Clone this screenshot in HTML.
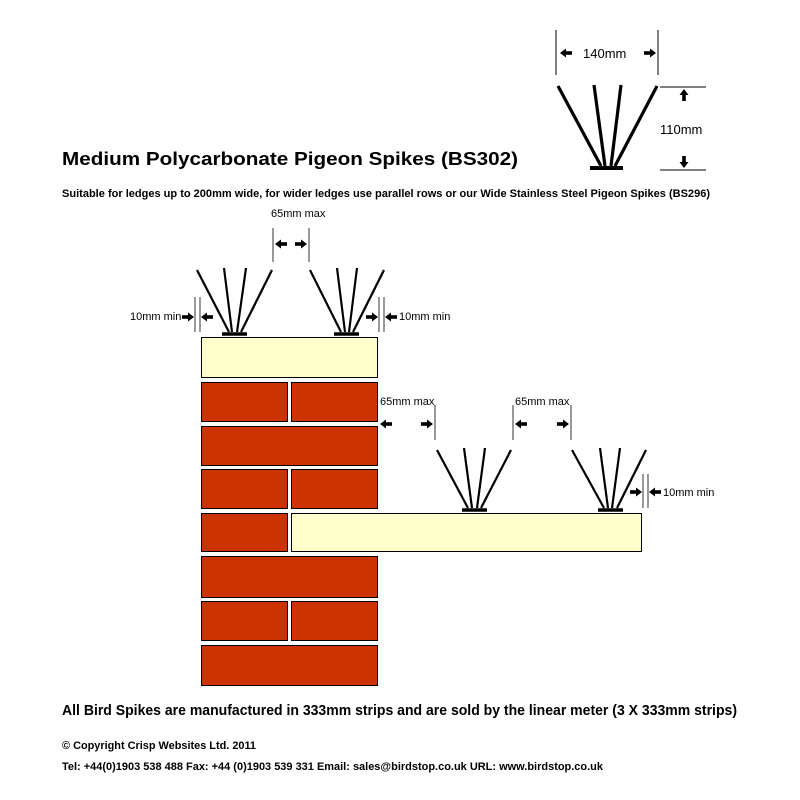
<!DOCTYPE html>
<html><head><style>body{margin:0;background:#fff}svg{display:block}text{font-family:"Liberation Sans",Arial,sans-serif}</style></head>
<body>
<svg width="800" height="800" viewBox="0 0 800 800" xmlns="http://www.w3.org/2000/svg">
<defs>
<g id="ar"><rect x="-12" y="-1.8" width="7" height="3.6" fill="#000"/><polygon points="-6,-4.5 0,0 -6,4.5" fill="#000"/></g>
</defs>
<!-- big spike -->
<g stroke="#000" stroke-width="3.2" stroke-linecap="butt">
<line x1="558" y1="86" x2="601" y2="166"/><line x1="594" y1="85" x2="605" y2="166"/><line x1="621" y1="85" x2="611" y2="166"/><line x1="657" y1="86" x2="615" y2="166"/>
<line x1="590" y1="168" x2="623" y2="168" stroke-width="4"/>
</g>
<g stroke="#000" stroke-width="1">
<line x1="556" y1="30" x2="556" y2="75"/><line x1="658" y1="30" x2="658" y2="75"/>
<line x1="660" y1="87" x2="706" y2="87"/><line x1="660" y1="170" x2="706" y2="170"/>
</g>
<use href="#ar" transform="translate(560,53) rotate(180)"/>
<use href="#ar" transform="translate(656,53)"/>
<use href="#ar" transform="translate(684,89) rotate(-90)"/>
<use href="#ar" transform="translate(684,168) rotate(90)"/>
<text x="583" y="58" font-size="13">140mm</text>
<text x="660" y="134" font-size="13">110mm</text>
<text x="62" y="165" font-size="18" font-weight="bold" textLength="456" lengthAdjust="spacingAndGlyphs">Medium Polycarbonate Pigeon Spikes (BS302)</text>
<text x="62" y="197" font-size="11" font-weight="bold" textLength="648" lengthAdjust="spacingAndGlyphs">Suitable for ledges up to 200mm wide, for wider ledges use parallel rows or our Wide Stainless Steel Pigeon Spikes (BS296)</text>
<!-- small spikes -->
<g stroke="#000" stroke-width="2.2">
<line x1="197" y1="270" x2="229" y2="332"/><line x1="224" y1="268" x2="232" y2="332"/><line x1="246" y1="268" x2="237" y2="332"/><line x1="272" y1="270" x2="241" y2="332"/>
<line x1="222" y1="334" x2="247" y2="334" stroke-width="3.5"/>
<line x1="310" y1="270" x2="341" y2="332"/><line x1="337" y1="268" x2="345" y2="332"/><line x1="357" y1="268" x2="349" y2="332"/><line x1="384" y1="270" x2="353" y2="332"/>
<line x1="334" y1="334" x2="359" y2="334" stroke-width="3.5"/>
<line x1="437" y1="450" x2="468" y2="508"/><line x1="464" y1="448" x2="472" y2="508"/><line x1="485" y1="448" x2="477" y2="508"/><line x1="511" y1="450" x2="481" y2="508"/>
<line x1="462" y1="510" x2="487" y2="510" stroke-width="3.5"/>
<line x1="572" y1="450" x2="604" y2="508"/><line x1="600" y1="448" x2="608" y2="508"/><line x1="620" y1="448" x2="612" y2="508"/><line x1="646" y1="450" x2="617" y2="508"/>
<line x1="598" y1="510" x2="623" y2="510" stroke-width="3.5"/>
</g>
<g stroke="#000" stroke-width="0.8">
<line x1="273" y1="228" x2="273" y2="262"/><line x1="309" y1="228" x2="309" y2="262"/>
<line x1="195" y1="297" x2="195" y2="332"/><line x1="200" y1="297" x2="200" y2="332"/>
<line x1="379" y1="297" x2="379" y2="332"/><line x1="384" y1="297" x2="384" y2="332"/>
<line x1="435" y1="405" x2="435" y2="440"/><line x1="513" y1="405" x2="513" y2="440"/><line x1="571" y1="405" x2="571" y2="440"/>
<line x1="643" y1="474" x2="643" y2="508"/><line x1="648" y1="474" x2="648" y2="508"/>
</g>
<use href="#ar" transform="translate(275,244) rotate(180)"/>
<use href="#ar" transform="translate(307,244)"/>
<use href="#ar" transform="translate(194,317)"/>
<use href="#ar" transform="translate(201,317) rotate(180)"/>
<use href="#ar" transform="translate(378,317)"/>
<use href="#ar" transform="translate(385,317) rotate(180)"/>
<use href="#ar" transform="translate(380,424) rotate(180)"/>
<use href="#ar" transform="translate(433,424)"/>
<use href="#ar" transform="translate(515,424) rotate(180)"/>
<use href="#ar" transform="translate(569,424)"/>
<use href="#ar" transform="translate(642,492)"/>
<use href="#ar" transform="translate(649,492) rotate(180)"/>
<g font-size="11">
<text x="271" y="217">65mm max</text>
<text x="130" y="320">10mm min</text>
<text x="399" y="320">10mm min</text>
<text x="380" y="405">65mm max</text>
<text x="515" y="405">65mm max</text>
<text x="663" y="496">10mm min</text>
</g>
<!-- bricks & ledges -->
<g stroke="#000" stroke-width="1">
<rect x="201.5" y="337.5" width="176" height="40" fill="#ffffcc"/>
<g fill="#cc3300">
<rect x="201.5" y="382.5" width="86" height="39"/><rect x="291.5" y="382.5" width="86" height="39"/>
<rect x="201.5" y="426.5" width="176" height="39"/>
<rect x="201.5" y="469.5" width="86" height="39"/><rect x="291.5" y="469.5" width="86" height="39"/>
<rect x="201.5" y="513.5" width="86" height="38"/>
<rect x="201.5" y="556.5" width="176" height="41"/>
<rect x="201.5" y="601.5" width="86" height="39"/><rect x="291.5" y="601.5" width="86" height="39"/>
<rect x="201.5" y="645.5" width="176" height="40"/>
</g>
<rect x="291.5" y="513.5" width="350" height="38" fill="#ffffcc"/>
</g>
<text x="62" y="715" font-size="14.5" font-weight="bold" textLength="675" lengthAdjust="spacingAndGlyphs">All Bird Spikes are manufactured in 333mm strips and are sold by the linear meter (3 X 333mm strips)</text>
<text x="62" y="749" font-size="11" font-weight="bold" textLength="194" lengthAdjust="spacingAndGlyphs">© Copyright Crisp Websites Ltd. 2011</text>
<text x="62" y="770" font-size="11" font-weight="bold" textLength="541" lengthAdjust="spacingAndGlyphs">Tel: +44(0)1903 538 488 Fax: +44 (0)1903 539 331 Email: sales@birdstop.co.uk URL: www.birdstop.co.uk</text>
</svg>
</body></html>
